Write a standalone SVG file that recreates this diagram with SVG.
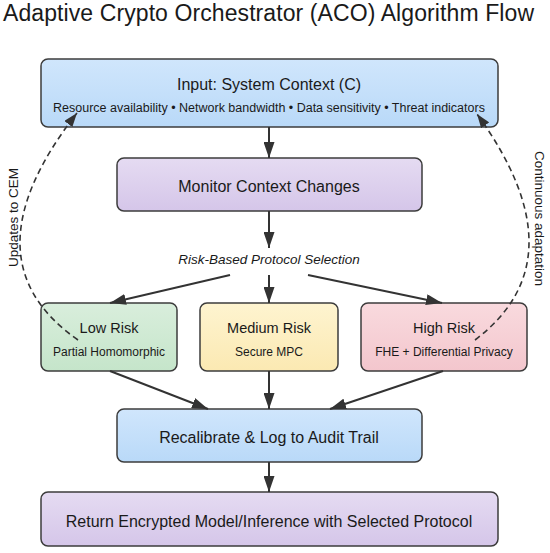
<svg xmlns="http://www.w3.org/2000/svg" width="550" height="553" viewBox="0 0 550 553">
<style>
text{font-family:"Liberation Sans",Arial,Helvetica,sans-serif;fill:#1a1a1a}
.box{stroke:#3c3c3c;stroke-width:1.5}
.t{font-size:16px;text-anchor:middle}
.h{font-size:14.5px;text-anchor:middle}
.s{font-size:12px;text-anchor:middle}
.ln{stroke:#333;stroke-width:2;fill:none;marker-end:url(#ah)}
.dash{stroke:#333;stroke-width:1.6;fill:none;stroke-dasharray:6 4;marker-end:url(#ahd)}
.lbl{font-size:13.5px;text-anchor:middle}
</style>
<defs>
<linearGradient id="gBlue" x1="0" y1="0" x2="0" y2="1"><stop offset="0" stop-color="#d0e6fc"/><stop offset="1" stop-color="#b9d9f8"/></linearGradient>
<linearGradient id="gPurple" x1="0" y1="0" x2="0" y2="1"><stop offset="0" stop-color="#e5dbf2"/><stop offset="1" stop-color="#d5c6e9"/></linearGradient>
<linearGradient id="gGreen" x1="0" y1="0" x2="0" y2="1"><stop offset="0" stop-color="#d9eedc"/><stop offset="1" stop-color="#c5e5ca"/></linearGradient>
<linearGradient id="gYellow" x1="0" y1="0" x2="0" y2="1"><stop offset="0" stop-color="#fef4d0"/><stop offset="1" stop-color="#fbe9b2"/></linearGradient>
<linearGradient id="gPink" x1="0" y1="0" x2="0" y2="1"><stop offset="0" stop-color="#f9dade"/><stop offset="1" stop-color="#f3c6cd"/></linearGradient>
<marker id="ah" viewBox="0 0 16 11" refX="16" refY="5.5" markerWidth="16" markerHeight="11" markerUnits="userSpaceOnUse" orient="auto"><path d="M0,0 L16,5.5 L0,11 z" fill="#333"/></marker>
<marker id="ahd" viewBox="0 0 14 10" refX="14" refY="5" markerWidth="14" markerHeight="10" markerUnits="userSpaceOnUse" orient="auto"><path d="M0,0 L14,5 L0,10 z" fill="#333"/></marker>
</defs>
<text x="3" y="21" style="font-size:23px" textLength="531">Adaptive Crypto Orchestrator (ACO) Algorithm Flow</text>
<g id="input">
<rect class="box" x="41" y="59" width="457" height="68" rx="7" fill="url(#gBlue)"/>
<text class="t" x="269" y="90">Input: System Context (C)</text>
<text class="s" x="269" y="111.5" style="font-size:12.5px">Resource availability • Network bandwidth • Data sensitivity • Threat indicators</text>
</g>
<g id="monitor">
<rect class="box" x="117" y="158" width="305" height="53" rx="7" fill="url(#gPurple)"/>
<text class="t" x="269" y="191.5">Monitor Context Changes</text>
</g>
<g id="selection">
<text x="269" y="264" style="font-size:13.5px;font-style:italic;text-anchor:middle">Risk-Based Protocol Selection</text>
</g>
<g id="low">
<rect class="box" x="41" y="303" width="136" height="68" rx="7" fill="url(#gGreen)"/>
<text class="h" x="109" y="333">Low Risk</text>
<text class="s" x="109" y="356">Partial Homomorphic</text>
</g>
<g id="medium">
<rect class="box" x="200" y="303" width="138" height="68" rx="7" fill="url(#gYellow)"/>
<text class="h" x="269" y="333">Medium Risk</text>
<text class="s" x="269" y="356">Secure MPC</text>
</g>
<g id="high">
<rect class="box" x="361" y="303" width="166" height="68" rx="7" fill="url(#gPink)"/>
<text class="h" x="444" y="333">High Risk</text>
<text class="s" x="444" y="356">FHE + Differential Privacy</text>
</g>
<g id="recalibrate">
<rect class="box" x="117" y="409" width="305" height="53" rx="7" fill="url(#gBlue)"/>
<text class="t" x="269" y="443">Recalibrate &amp; Log to Audit Trail</text>
</g>
<g id="return">
<rect class="box" x="41" y="492" width="457" height="54" rx="7" fill="url(#gPurple)"/>
<text class="t" x="269" y="526.5">Return Encrypted Model/Inference with Selected Protocol</text>
</g>
<g id="connectors">
<line class="ln" x1="269" y1="127" x2="269" y2="158"/>
<line class="ln" x1="269" y1="211" x2="269" y2="248"/>
<line class="ln" x1="230" y1="275" x2="110" y2="303"/>
<line class="ln" x1="269" y1="275" x2="269" y2="303"/>
<line class="ln" x1="308" y1="275" x2="442" y2="303"/>
<line class="ln" x1="110" y1="371" x2="208" y2="409"/>
<line class="ln" x1="269" y1="371" x2="269" y2="409"/>
<line class="ln" x1="443" y1="371" x2="330" y2="409"/>
<line class="ln" x1="269" y1="462" x2="269" y2="492"/>
<path class="dash" d="M78,340 Q-37.5,259.5 77,113"/>
<path class="dash" d="M475,340 Q582,259 477,114"/>
<text class="lbl" transform="translate(18,217.5) rotate(-90)">Updates to CEM</text>
<text class="lbl" transform="translate(535,218.5) rotate(90)">Continuous adaptation</text>
</g>
</svg>
